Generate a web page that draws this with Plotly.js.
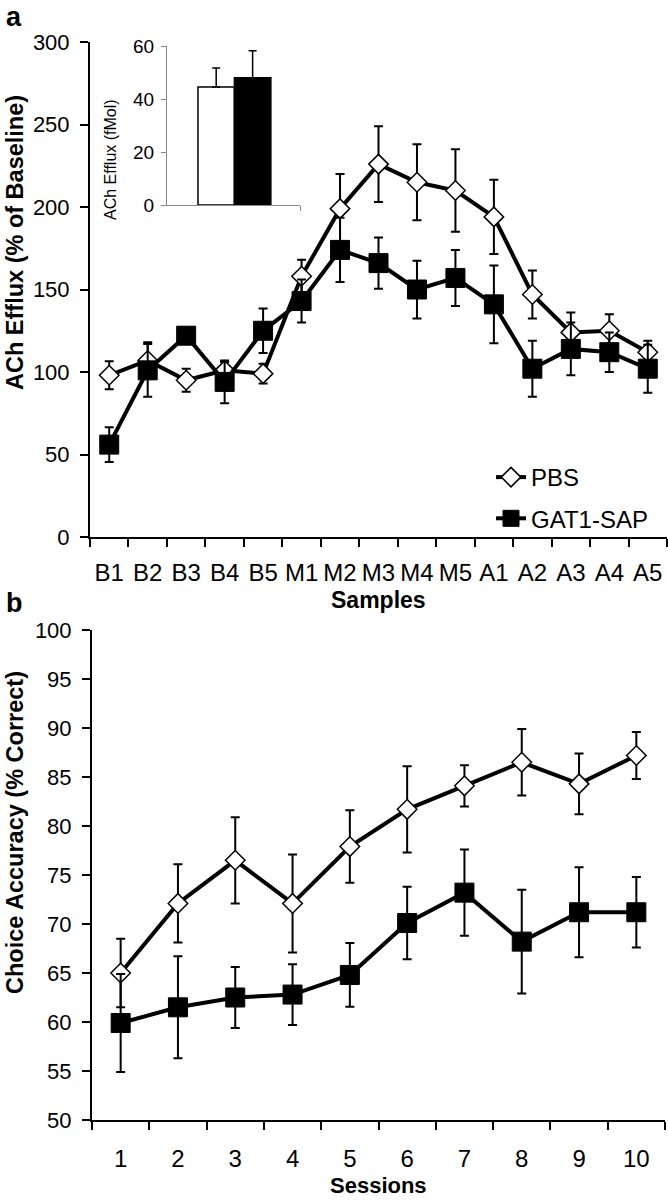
<!DOCTYPE html>
<html><head><meta charset="utf-8">
<script src="https://cdn.plot.ly/plotly-3.0.1.min.js"></script>
<style>html,body{margin:0;padding:0;background:#fff}</style>
</head><body><div id="chart" style="width:668px;height:1200px"></div>
<script>
// ---- Panel a: ACh efflux (% of baseline) ----
const samples = ['B1','B2','B3','B4','B5','M1','M2','M3','M4','M5','A1','A2','A3','A4','A5'];
const pbsEfflux    = [98, 107, 95, 101, 99, 158, 199, 226, 215, 210, 194, 147, 124, 125, 112];
const pbsEffluxErr = [8.5, 11, 7, 5, 6, 10, 21, 23, 23, 25, 22.5, 14.5, 12, 10, 7];
const gatEfflux    = [56, 101, 122, 94, 125, 143, 174, 166, 150, 157, 141, 102, 114, 112, 102];
const gatEffluxErr = [10.5, 16, 3, 13, 13.5, 13, 19.5, 15.5, 17.5, 17, 23.5, 17, 16, 12, 14.5];

// ---- Inset: baseline ACh efflux (fMol) ----
const insetGroups = [0, 1]; // PBS, GAT1-SAP
const insetValues = [44.5, 48];
const insetErr    = [7.2, 10.2];

// ---- Panel b: choice accuracy ----
const sessions  = ['1','2','3','4','5','6','7','8','9','10'];
const pbsAcc    = [65.0, 72.1, 76.5, 72.1, 77.9, 81.7, 84.1, 86.5, 84.3, 87.2];
const pbsAccErr = [3.5, 4, 4.4, 5, 3.7, 4.4, 2.1, 3.4, 3.1, 2.4];
const gatAcc    = [59.9, 61.5, 62.5, 62.8, 64.8, 70.1, 73.2, 68.2, 71.2, 71.2];
const gatAccErr = [5, 5.2, 3.1, 3.1, 3.25, 3.7, 4.4, 5.3, 4.6, 3.6];

const FONT = 'Liberation Sans, Arial, sans-serif';
const W = 668, H = 1200;

const diamond = {symbol:'diamond', size:15, color:'white', line:{color:'black', width:1.5}};
const square  = {symbol:'square', size:19, color:'black', line:{color:'black', width:1}};
const errStyle = (arr) => ({type:'data', array:arr, visible:true, color:'black', thickness:2, width:4.5});

const traces = [
  {x:samples, y:pbsEfflux, xaxis:'x', yaxis:'y', mode:'lines+markers', name:'PBS', legendgroup:'p',
   line:{color:'black', width:4}, marker:diamond, error_y:errStyle(pbsEffluxErr)},
  {x:samples, y:gatEfflux, xaxis:'x', yaxis:'y', mode:'lines+markers', name:'GAT1-SAP', legendgroup:'g',
   line:{color:'black', width:4}, marker:square, error_y:errStyle(gatEffluxErr)},
  {x:insetGroups, y:insetValues, xaxis:'x2', yaxis:'y2', type:'bar', width:1, showlegend:false,
   marker:{color:['white','black'], line:{color:'black', width:1.5}},
   error_y:{type:'data', symmetric:false, array:insetErr, arrayminus:[0,0], color:'black', thickness:1.5, width:4}},
  {x:sessions, y:pbsAcc, xaxis:'x3', yaxis:'y3', mode:'lines+markers', showlegend:false,
   line:{color:'black', width:4}, marker:diamond, error_y:errStyle(pbsAccErr)},
  {x:sessions, y:gatAcc, xaxis:'x3', yaxis:'y3', mode:'lines+markers', showlegend:false,
   line:{color:'black', width:4}, marker:square, error_y:errStyle(gatAccErr)}
];

const axBase = {showline:true, linecolor:'black', linewidth:2, ticks:'outside', ticklen:8, tickwidth:2,
  tickcolor:'black', showgrid:false, zeroline:false, tickangle:0, tickfont:{family:FONT, size:22, color:'black'}};

const layout = {
  width:W, height:H, margin:{l:0, r:0, t:0, b:0}, paper_bgcolor:'white', plot_bgcolor:'white',
  font:{family:FONT, color:'black'},
  xaxis: Object.assign({}, axBase, {domain:[90/W, 667/W], anchor:'y', type:'category', range:[-0.5, 14.5],
    tickson:'boundaries', ticklabelstandoff:13, tickfont:{family:FONT, size:24, color:'black'}}),
  yaxis: Object.assign({}, axBase, {domain:[(H-537)/H, (H-42)/H], anchor:'x', range:[0,300], dtick:50, ticklabelstandoff:6}),
  xaxis2: {domain:[167/W, 300/W], anchor:'y2', range:[-1.35, 2.3], showline:true, linecolor:'#888', linewidth:1,
    tickvals:[2.3], ticks:'outside', ticklen:5, tickcolor:'#888', showticklabels:false, showgrid:false, zeroline:false},
  yaxis2: {domain:[(H-205)/H, (H-46)/H], anchor:'x2', range:[0,60], dtick:20, showline:true, linecolor:'#888', linewidth:1,
    ticks:'outside', ticklen:5, tickcolor:'#888', showgrid:false, zeroline:false, ticklabelstandoff:3,
    tickfont:{family:FONT, size:19, color:'black'}},
  xaxis3: Object.assign({}, axBase, {domain:[92/W, 665/W], anchor:'y3', type:'category', range:[-0.5, 9.5],
    tickson:'boundaries', ticklabelstandoff:16, tickfont:{family:FONT, size:24, color:'black'}}),
  yaxis3: Object.assign({}, axBase, {domain:[(H-1120)/H, (H-630)/H], anchor:'x3', range:[50,100], dtick:5, ticklabelstandoff:6}),
  showlegend:true,
  legend:{x:491/W, y:(H-455)/H, xanchor:'left', yanchor:'top', bgcolor:'rgba(0,0,0,0)',
    font:{family:FONT, size:24, color:'black'}, tracegroupgap:7},
  annotations:[
    {text:'<b>a</b>', x:4/W, y:1, xref:'paper', yref:'paper', xanchor:'left', yanchor:'top', showarrow:false,
     font:{family:FONT, size:27}},
    {text:'<b>b</b>', x:4/W, y:(H-586)/H, xref:'paper', yref:'paper', xanchor:'left', yanchor:'top', showarrow:false,
     font:{family:FONT, size:27}},
    {text:'<b>ACh Efflux (% of Baseline)</b>', textangle:-90, x:15/W, y:(H-243)/H, xref:'paper', yref:'paper',
     xanchor:'center', yanchor:'middle', showarrow:false, font:{family:FONT, size:23.5}},
    {text:'ACh Efflux (fMol)', textangle:-90, x:111/W, y:(H-160)/H, xref:'paper', yref:'paper',
     xanchor:'center', yanchor:'middle', showarrow:false, font:{family:FONT, size:16}},
    {text:'<b>Samples</b>', x:378/W, y:(H-600)/H, xref:'paper', yref:'paper', xanchor:'center', yanchor:'middle',
     showarrow:false, font:{family:FONT, size:23}},
    {text:'<b>Choice Accuracy (% Correct)</b>', textangle:-90, x:15/W, y:(H-833)/H, xref:'paper', yref:'paper',
     xanchor:'center', yanchor:'middle', showarrow:false, font:{family:FONT, size:23.5}},
    {text:'<b>Sessions</b>', x:378/W, y:(H-1185)/H, xref:'paper', yref:'paper', xanchor:'center', yanchor:'middle',
     showarrow:false, font:{family:FONT, size:22}}
  ]
};

Plotly.newPlot('chart', traces, layout, {displayModeBar:false, staticPlot:true});
</script>
</body></html>
